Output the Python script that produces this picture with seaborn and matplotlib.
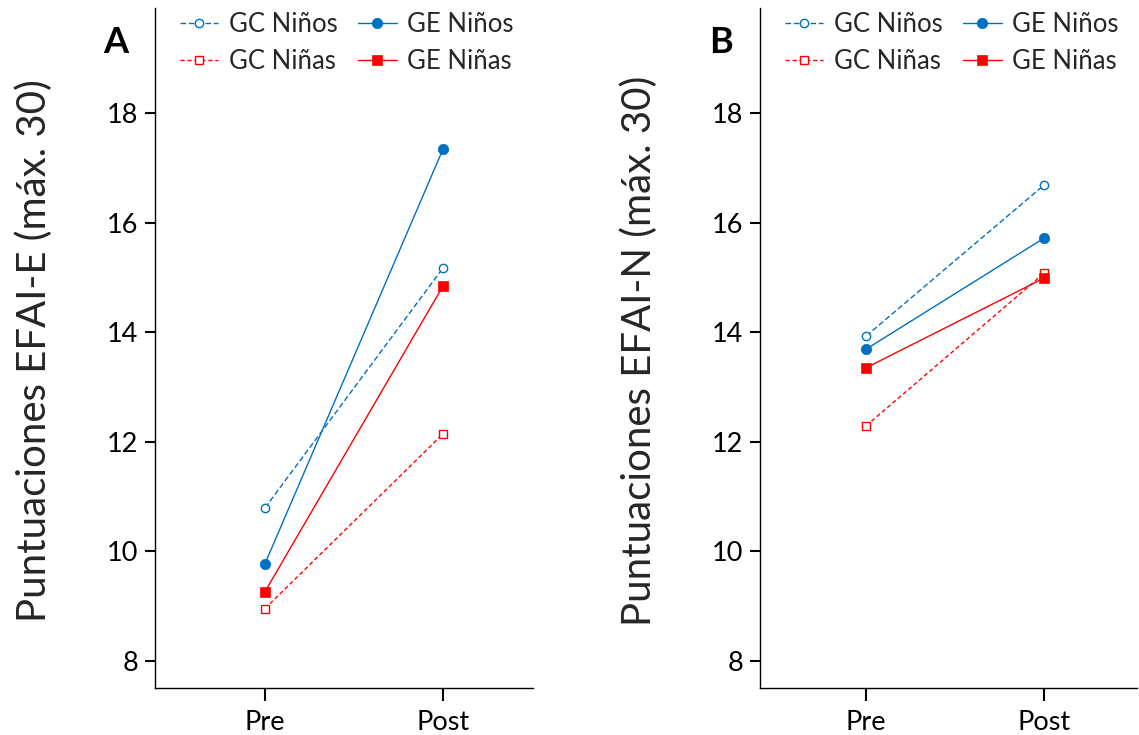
import matplotlib
matplotlib.use("Agg")
import matplotlib.pyplot as plt
import seaborn as sns
import pandas as pd

sns.set_theme(style="ticks")
plt.rcParams['font.family'] = ['Lato', 'DejaVu Sans']

times = ["Pre", "Post"]
series_names = ["GC Niños", "GC Niñas", "GE Niños", "GE Niñas"]

# Panel A: EFAI-E
a_gc_ninos = [10.79, 15.17]
a_gc_ninas = [8.95, 12.14]
a_ge_ninos = [9.77, 17.34]
a_ge_ninas = [9.26, 14.84]

# Panel B: EFAI-N
b_gc_ninos = [13.93, 16.69]
b_gc_ninas = [12.29, 15.08]
b_ge_ninos = [13.69, 15.72]
b_ge_ninas = [13.35, 14.99]

yticks = [8, 10, 12, 14, 16, 18]
ylabels = ["Puntuaciones EFAI-E (máx. 30)", "Puntuaciones EFAI-N (máx. 30)"]
panel_letters = ["A", "B"]

BLUE = "#0070C0"
RED = "#FF0000"
styles = {
    "GC Niños": dict(color=BLUE, marker="o", markerfacecolor="white", markeredgecolor=BLUE,
                     linestyle=(0, (4, 2)), markersize=6, markeredgewidth=1),
    "GC Niñas": dict(color=RED, marker="s", markerfacecolor="white", markeredgecolor=RED,
                     linestyle=(0, (3, 2)), markersize=6, markeredgewidth=1),
    "GE Niños": dict(color=BLUE, marker="o", markerfacecolor=BLUE, markeredgecolor=BLUE,
                     linestyle="-", markersize=7.5, markeredgewidth=0.5),
    "GE Niñas": dict(color=RED, marker="s", markerfacecolor=RED, markeredgecolor=RED,
                     linestyle="-", markersize=7.5, markeredgewidth=0.5),
}

panels = [
    {"GC Niños": a_gc_ninos, "GC Niñas": a_gc_ninas, "GE Niños": a_ge_ninos, "GE Niñas": a_ge_ninas},
    {"GC Niños": b_gc_ninos, "GC Niñas": b_gc_ninas, "GE Niños": b_ge_ninos, "GE Niñas": b_ge_ninas},
]

fig = plt.figure(figsize=(11.39, 7.35), dpi=100)
axes_rects = [
    [155 / 1139, 47 / 735, 378 / 1139, 680 / 735],
    [760 / 1139, 47 / 735, 377 / 1139, 680 / 735],
]
xlims = [(-0.618, 1.506), (-0.596, 1.52)]

for i, (rect, pdata) in enumerate(zip(axes_rects, panels)):
    ax = fig.add_axes(rect)
    for name in series_names:
        df = pd.DataFrame({"t": times, "v": pdata[name]})
        sns.lineplot(data=df, x="t", y="v", ax=ax, label=name, linewidth=1,
                     sort=False, **styles[name])
    ax.set_xlim(*xlims[i])
    ax.set_ylim(7.5, 19.92)
    ax.set_yticks(yticks)
    ax.set_xlabel("")
    ax.set_ylabel(ylabels[i], fontsize=29)
    ax.yaxis.set_label_coords(-0.27, 0.496)
    ax.tick_params(axis="y", labelsize=19.5, width=1.5, length=7, pad=5,
                   color="black", labelcolor="black")
    ax.tick_params(axis="x", labelsize=19.5, width=1.5, length=9, pad=7,
                   color="black", labelcolor="black")
    for s in ["top", "right"]:
        ax.spines[s].set_visible(False)
    for s in ["left", "bottom"]:
        ax.spines[s].set_color("black")
        ax.spines[s].set_linewidth(1)
    ax.grid(False)
    ax.legend(ncol=2, frameon=False, loc="upper left", bbox_to_anchor=(0.066, 0.994),
              fontsize=18.5, handlelength=1.5, handletextpad=0.4, columnspacing=0.8,
              labelspacing=0.45, borderaxespad=0.0, borderpad=0.0)
    ax.text(-0.103, 0.949, panel_letters[i], transform=ax.transAxes, fontsize=26,
            fontweight="bold", ha="center", va="center", color="black")

fig.savefig("out.png", dpi=100)
